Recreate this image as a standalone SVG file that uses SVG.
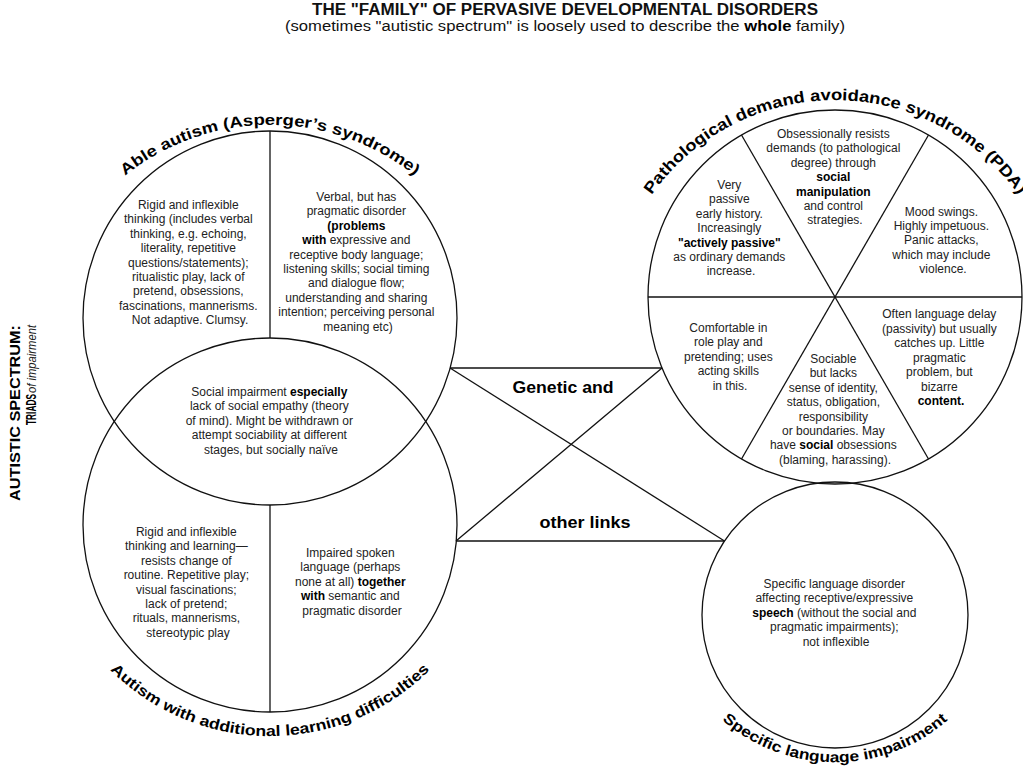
<svg xmlns="http://www.w3.org/2000/svg" width="1023" height="776" viewBox="0 0 1023 776">
<style>
.ln{fill:none;stroke:#111;stroke-width:1.3}
.t{font-family:"Liberation Sans",Arial,sans-serif;font-size:12px;fill:#222;text-anchor:middle}
.b{font-weight:bold;fill:#000}
.cl{font-family:"Liberation Sans",Arial,sans-serif;font-weight:bold;fill:#000}
.hd{font-family:"Liberation Sans",Arial,sans-serif;fill:#111;text-anchor:middle}
</style>
<defs>
<path id="pAble" d="M69,241 A232,232 0 0 1 471,241"/>
<path id="pPDA" d="M617.7,266.8 A225,225 0 0 1 1052.3,266.8"/>
<path id="pALD" d="M57.6,587.3 A226,226 0 0 0 482.4,587.3"/>
<path id="pSLI" d="M679,662.7 A172,172 0 0 0 991,662.7"/>
</defs>
<rect width="1023" height="776" fill="#fff"/>

<g id="title">
<text class="hd" x="565" y="15" font-size="16" font-weight="bold" textLength="506" lengthAdjust="spacingAndGlyphs">THE "FAMILY" OF PERVASIVE DEVELOPMENTAL DISORDERS</text>
<text class="hd" x="565" y="31" font-size="14" textLength="560" lengthAdjust="spacingAndGlyphs">(sometimes "autistic spectrum" is loosely used to describe the <tspan font-weight="bold" fill="#000">whole</tspan> family)</text>
</g>

<g id="side-label">
<text class="cl" transform="translate(20,325) rotate(-90)" text-anchor="end" font-size="15.5" textLength="176" lengthAdjust="spacingAndGlyphs">AUTISTIC SPECTRUM:</text>
<text class="cl" transform="translate(36,425) rotate(-90)" text-anchor="start" font-size="14" textLength="31" lengthAdjust="spacingAndGlyphs">TRIADS</text>
<text transform="translate(36,325) rotate(-90)" text-anchor="end" font-family="Liberation Sans, Arial, sans-serif" font-style="italic" font-size="13.5" fill="#222" textLength="68" lengthAdjust="spacingAndGlyphs">of impairment</text>
</g>

<g id="connectors">
<line class="ln" x1="450" y1="368" x2="662" y2="368"/>
<line class="ln" x1="456" y1="541" x2="724.5" y2="541"/>
<line class="ln" x1="450" y1="368" x2="724.5" y2="541"/>
<line class="ln" x1="456" y1="541" x2="662" y2="368"/>
<text class="cl" x="563" y="393" font-size="16" text-anchor="middle" textLength="101" lengthAdjust="spacingAndGlyphs">Genetic and</text>
<text class="cl" x="585" y="528" font-size="16" text-anchor="middle" textLength="91" lengthAdjust="spacingAndGlyphs">other links</text>
</g>

<g id="able-autism">
<circle class="ln" cx="270" cy="318" r="187"/>
<line class="ln" x1="270" y1="131" x2="270" y2="338"/>
<text class="cl" font-size="15.5"><textPath href="#pAble" startOffset="50%" text-anchor="middle" textLength="313" lengthAdjust="spacingAndGlyphs">Able autism (Asperger’s syndrome)</textPath></text>
<text class="t">
<tspan x="190" y="209">Rigid and inflexible</tspan>
<tspan x="190" y="223.4">thinking (includes verbal</tspan>
<tspan x="190" y="237.8">thinking, e.g. echoing,</tspan>
<tspan x="190" y="252.2">literality, repetitive</tspan>
<tspan x="190" y="266.6">questions/statements);</tspan>
<tspan x="190" y="281">ritualistic play, lack of</tspan>
<tspan x="190" y="295.4">pretend, obsessions,</tspan>
<tspan x="190" y="309.8">fascinations, mannerisms.</tspan>
<tspan x="190" y="324.2">Not adaptive. Clumsy.</tspan>
</text>
<text class="t">
<tspan x="358" y="201">Verbal, but has</tspan>
<tspan x="358" y="215.4">pragmatic disorder</tspan>
<tspan x="358" y="229.8" class="b">(problems</tspan>
<tspan x="358" y="244.2"><tspan class="b">with</tspan> expressive and</tspan>
<tspan x="358" y="258.6">receptive body language;</tspan>
<tspan x="358" y="273">listening skills; social timing</tspan>
<tspan x="358" y="287.4">and dialogue flow;</tspan>
<tspan x="358" y="301.8">understanding and sharing</tspan>
<tspan x="358" y="316.2">intention; perceiving personal</tspan>
<tspan x="358" y="330.6">meaning etc)</tspan>
</text>
<text class="t">
<tspan x="271" y="396">Social impairment <tspan class="b">especially</tspan></tspan>
<tspan x="271" y="410.4">lack of social empathy (theory</tspan>
<tspan x="271" y="424.8">of mind). Might be withdrawn or</tspan>
<tspan x="271" y="439.2">attempt sociability at different</tspan>
<tspan x="271" y="453.6">stages, but socially naïve</tspan>
</text>
</g>

<g id="autism-learning">
<circle class="ln" cx="270" cy="525" r="187"/>
<line class="ln" x1="270" y1="505" x2="270" y2="712"/>
<text class="cl" font-size="15"><textPath href="#pALD" startOffset="50%" text-anchor="middle" textLength="355" lengthAdjust="spacingAndGlyphs">Autism with additional learning difficulties</textPath></text>
<text class="t">
<tspan x="188" y="536">Rigid and inflexible</tspan>
<tspan x="188" y="550.4">thinking and learning—</tspan>
<tspan x="188" y="564.8">resists change of</tspan>
<tspan x="188" y="579.2">routine. Repetitive play;</tspan>
<tspan x="188" y="593.6">visual fascinations;</tspan>
<tspan x="188" y="608">lack of pretend;</tspan>
<tspan x="188" y="622.4">rituals, mannerisms,</tspan>
<tspan x="188" y="636.8">stereotypic play</tspan>
</text>
<text class="t">
<tspan x="352" y="557">Impaired spoken</tspan>
<tspan x="352" y="571.4">language (perhaps</tspan>
<tspan x="352" y="585.8">none at all) <tspan class="b">together</tspan></tspan>
<tspan x="352" y="600.2"><tspan class="b">with</tspan> semantic and</tspan>
<tspan x="352" y="614.6">pragmatic disorder</tspan>
</text>
</g>

<g id="pda">
<circle class="ln" cx="835" cy="297" r="187"/>
<line class="ln" x1="648" y1="297" x2="1022" y2="297"/>
<line class="ln" x1="741.5" y1="135" x2="928.5" y2="459"/>
<line class="ln" x1="928.5" y1="135" x2="741.5" y2="459"/>
<text class="cl" font-size="16"><textPath href="#pPDA" startOffset="50%" text-anchor="middle" textLength="429" lengthAdjust="spacingAndGlyphs">Pathological demand avoidance syndrome (PDA)</textPath></text>
<text class="t">
<tspan x="731" y="189">Very</tspan>
<tspan x="731" y="203.4">passive</tspan>
<tspan x="731" y="217.8">early history.</tspan>
<tspan x="731" y="232.2">Increasingly</tspan>
<tspan x="731" y="246.6" class="b">"actively passive"</tspan>
<tspan x="731" y="261">as ordinary demands</tspan>
<tspan x="731" y="275.4">increase.</tspan>
</text>
<text class="t">
<tspan x="835" y="138">Obsessionally resists</tspan>
<tspan x="835" y="152.4">demands (to pathological</tspan>
<tspan x="835" y="166.8">degree) through</tspan>
<tspan x="835" y="181.2" class="b">social</tspan>
<tspan x="835" y="195.6" class="b">manipulation</tspan>
<tspan x="835" y="210">and control</tspan>
<tspan x="835" y="224.4">strategies.</tspan>
</text>
<text class="t">
<tspan x="943" y="216">Mood swings.</tspan>
<tspan x="943" y="230.2">Highly impetuous.</tspan>
<tspan x="943" y="244.4">Panic attacks,</tspan>
<tspan x="943" y="258.6">which may include</tspan>
<tspan x="943" y="272.8">violence.</tspan>
</text>
<text class="t">
<tspan x="730" y="332">Comfortable in</tspan>
<tspan x="730" y="346.4">role play and</tspan>
<tspan x="730" y="360.8">pretending; uses</tspan>
<tspan x="730" y="375.2">acting skills</tspan>
<tspan x="730" y="389.6">in this.</tspan>
</text>
<text class="t">
<tspan x="835" y="363">Sociable</tspan>
<tspan x="835" y="377.4">but lacks</tspan>
<tspan x="835" y="391.8">sense of identity,</tspan>
<tspan x="835" y="406.2">status, obligation,</tspan>
<tspan x="835" y="420.6">responsibility</tspan>
<tspan x="835" y="435">or boundaries. May</tspan>
<tspan x="835" y="449.4">have <tspan class="b">social</tspan> obsessions</tspan>
<tspan x="835" y="463.8">(blaming, harassing).</tspan>
</text>
<text class="t">
<tspan x="941" y="318">Often language delay</tspan>
<tspan x="941" y="332.5">(passivity) but usually</tspan>
<tspan x="941" y="347">catches up. Little</tspan>
<tspan x="941" y="361.5">pragmatic</tspan>
<tspan x="941" y="376">problem, but</tspan>
<tspan x="941" y="390.5">bizarre</tspan>
<tspan x="941" y="405" class="b">content.</tspan>
</text>
</g>

<g id="sli">
<circle class="ln" cx="835" cy="615" r="133"/>
<text class="cl" font-size="15"><textPath href="#pSLI" startOffset="50%" text-anchor="middle" textLength="246" lengthAdjust="spacingAndGlyphs">Specific language impairment</textPath></text>
<text class="t">
<tspan x="836" y="588">Specific language disorder</tspan>
<tspan x="836" y="602.4">affecting receptive/expressive</tspan>
<tspan x="836" y="616.8"><tspan class="b">speech</tspan> (without the social and</tspan>
<tspan x="836" y="631.2">pragmatic impairments);</tspan>
<tspan x="836" y="645.6">not inflexible</tspan>
</text>
</g>
</svg>
